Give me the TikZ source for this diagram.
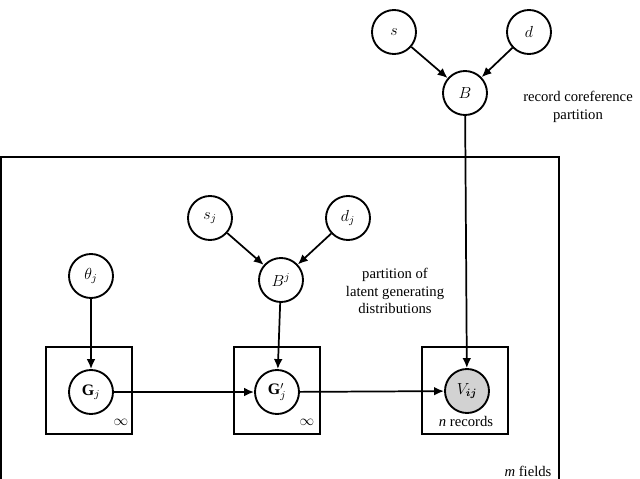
\documentclass[tikz,border=0pt]{standalone}
\usepackage{fontspec}
\usepackage{bm}
\setmainfont{Liberation Serif}
\usetikzlibrary{arrows.meta}
\begin{document}
\begin{tikzpicture}[x=0.75pt,y=-0.75pt,
  font=\fontsize{11}{13}\selectfont,
  var/.style={circle,draw,line width=1.4pt,minimum size=33pt,inner sep=0pt,font=\fontsize{12}{14}\selectfont},
  obs/.style={var,fill=gray!35},
  platebox/.style={draw,line width=1.3pt},
  arr/.style={-{Latex[length=7.5pt,width=6.5pt]},line width=1.3pt},
  lbl/.style={align=center,inner sep=0pt}]
\useasboundingbox (0,0) rectangle (640,479);
% big plate
\draw[platebox] (1,485) -- (1,157) -- (559,157) -- (559,485);
\node[lbl,anchor=base] (mf) at (528,476.5) {\textit{m} fields};
% small plates
\draw[platebox] (46,347) rectangle (132,434);
\draw[platebox] (234,347) rectangle (320,434);
\draw[platebox] (422,347) rectangle (508,434);
% top
\node[var] (s) at (394,32) {$s$};
\node[var] (d) at (529,32) {$d$};
\node[var] (B) at (465,93) {$B$};
\node[lbl] (lb) at (578,107) {record coreference\\partition};
% middle
\node[var] (th) at (91,276) {$\theta_j$};
\node[var] (sj) at (210,218) {$s_j$};
\node[var] (dj) at (348,218) {$d_j$};
\node[var] (Bj) at (281,280) {$B^j$};
\node[lbl] (lp) at (395,291) {partition of\\latent generating\\distributions};
% bottom
\node[var] (G) at (91,392) {$\mathbf{G}_j$};
\node[var] (Gp) at (277,392) {$\mathbf{G}'_j$};
\node[obs] (V) at (467,391) {$V_{\bm{ij}}$};
\node[lbl] (inf1) at (121,422) {$\infty$};
\node[lbl] (inf2) at (307,422) {$\infty$};
\node[lbl] (nr) at (466,421) {\textit{n} records};
% edges
\draw[arr] (s) -- (B);
\draw[arr] (d) -- (B);
\draw[arr] (sj) -- (Bj);
\draw[arr] (dj) -- (Bj);
\draw[arr] (th) -- (G);
\draw[arr] (Bj) -- (Gp);
\draw[arr] (B) -- (V);
\draw[arr] (G) -- (Gp);
\draw[arr] (Gp) -- (V);
\end{tikzpicture}
\end{document}
